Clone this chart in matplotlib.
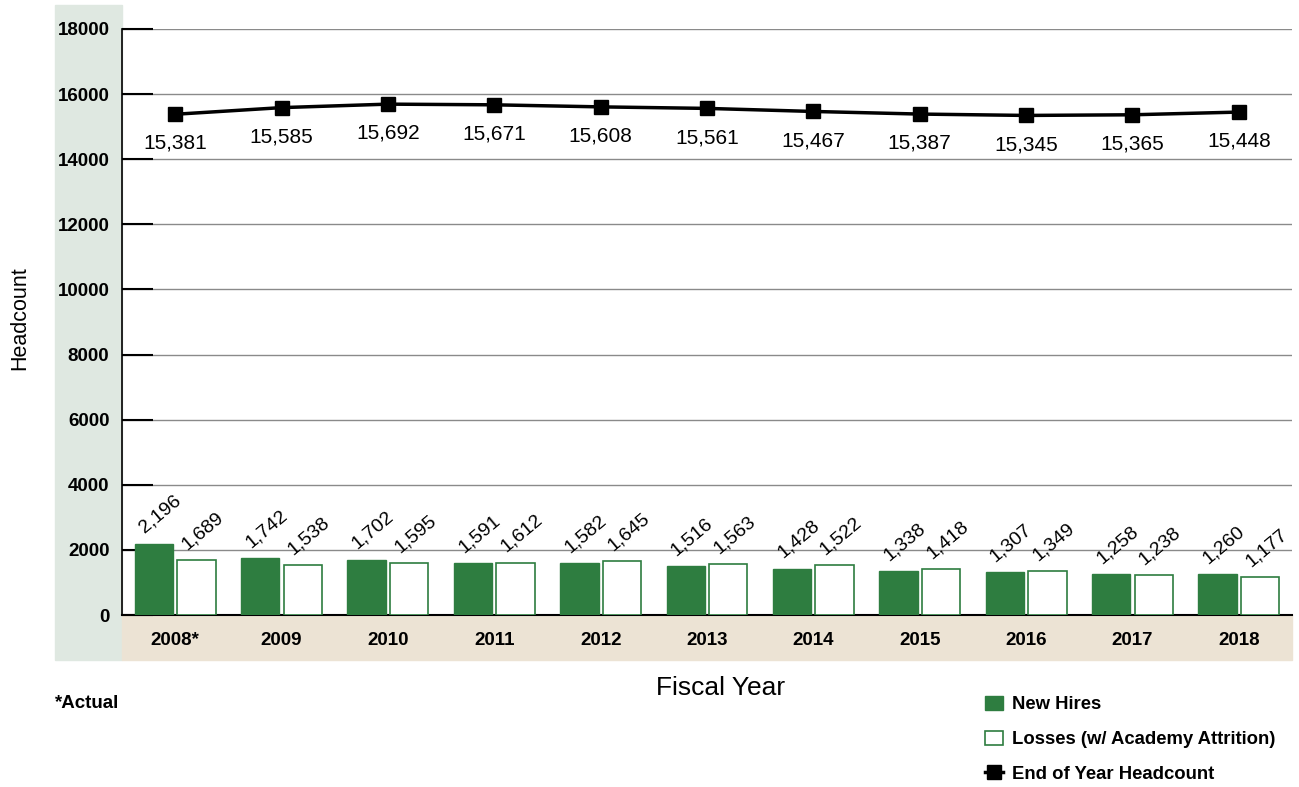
import numpy as np
import matplotlib.pyplot as plt
from matplotlib.patches import Rectangle

# values
years = ['2008*', '2009', '2010', '2011', '2012', '2013', '2014', '2015', '2016', '2017', '2018']
new_hires = [2196, 1742, 1702, 1591, 1582, 1516, 1428, 1338, 1307, 1258, 1260]
losses = [1689, 1538, 1595, 1612, 1645, 1563, 1522, 1418, 1349, 1238, 1177]
headcount = [15381, 15585, 15692, 15671, 15608, 15561, 15467, 15387, 15345, 15365, 15448]

GREEN = '#2e7d40'
plt.rcParams['font.family'] = ['Liberation Sans', 'DejaVu Sans']

W, H = 1299, 787
fig = plt.figure(figsize=(W / 100, H / 100), dpi=100)

def fx(px):
    return px / W

def fy(py):
    return 1 - py / H

# background strips (below the axes)
fig.patches.append(Rectangle((fx(55), fy(660)), fx(122) - fx(55), fy(5) - fy(660),
                             transform=fig.transFigure, color='#dfe8e1', zorder=-2))
fig.patches.append(Rectangle((fx(122), fy(660)), fx(1292) - fx(122), fy(615) - fy(660),
                             transform=fig.transFigure, color='#ece3d4', zorder=-2))

ax = fig.add_axes([fx(122), fy(615), fx(1292) - fx(122), fy(29) - fy(615)])
ax.patch.set_alpha(0)

N = np.arange(len(years))
w = 0.36
b1 = ax.bar(N - 0.2, new_hires, w, color=GREEN, edgecolor=GREEN, zorder=3, label='New Hires')
b2 = ax.bar(N + 0.2, losses, w, color='white', edgecolor=GREEN, linewidth=1.2, zorder=3,
            label='Losses (w/ Academy Attrition)')
ln, = ax.plot(N, headcount, color='black', lw=2.5, marker='s', markersize=10, zorder=4,
              label='End of Year Headcount')

for i in range(len(years)):
    ax.annotate(f'{new_hires[i]:,}', (N[i] - 0.2, new_hires[i]), xytext=(-5, 5),
                textcoords='offset points', rotation=40, rotation_mode='anchor',
                ha='left', va='bottom', fontsize=14, zorder=5)
    ax.annotate(f'{losses[i]:,}', (N[i] + 0.2, losses[i]), xytext=(-5, 5),
                textcoords='offset points', rotation=40, rotation_mode='anchor',
                ha='left', va='bottom', fontsize=14, zorder=5)
    ax.annotate(f'{headcount[i]:,}', (N[i], headcount[i]), xytext=(0, -21),
                textcoords='offset points', ha='center', va='center', fontsize=15,
                bbox=dict(facecolor='white', edgecolor='none', pad=1), zorder=5)

ax.set_xlim(-0.5, len(years) - 0.5)
ax.set_ylim(0, 18000)
ax.set_yticks(np.arange(0, 18001, 2000))
ax.yaxis.grid(True, color='#8a8a8a', lw=1)
ax.set_axisbelow(True)
ax.tick_params(axis='y', direction='in', length=22, width=1.5, color='black',
               labelsize=13.5, pad=9)
for t in ax.get_yticklabels():
    t.set_fontweight('bold')
ax.set_xticks(N)
ax.set_xticklabels(years, fontsize=13.5, fontweight='bold')
ax.tick_params(axis='x', length=0, pad=12)
ax.spines['top'].set_visible(False)
ax.spines['right'].set_visible(False)
ax.spines['left'].set_linewidth(1.2)
ax.spines['bottom'].set_linewidth(1.5)

fig.text(fx(20), fy(318), 'Headcount', rotation=90, ha='center', va='center', fontsize=15.5)
fig.text(fx(721), fy(688), 'Fiscal Year', ha='center', va='center', fontsize=19)
fig.text(fx(55), fy(703), '*Actual', ha='left', va='center', fontsize=13.5, fontweight='bold')

fig.legend(handles=[b1, b2, ln], loc='upper left', bbox_to_anchor=(fx(968), fy(679)),
           frameon=False, labelspacing=0.95, handlelength=1.0,
           handleheight=0.8, handletextpad=0.5, prop={'weight': 'bold', 'size': 13.3})

plt.savefig('out.png', dpi=100)
